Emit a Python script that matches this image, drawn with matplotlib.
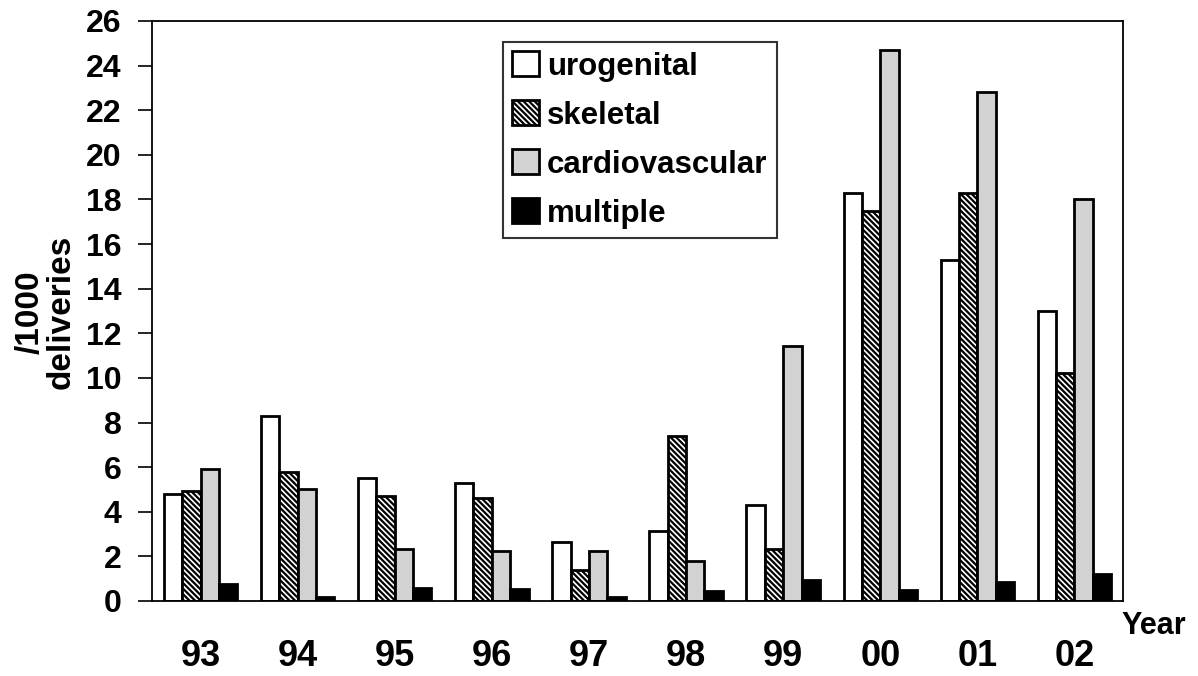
import numpy as np
import matplotlib
matplotlib.use('Agg')
import matplotlib.pyplot as plt

years = ['93', '94', '95', '96', '97', '98', '99', '00', '01', '02']
urogenital = [4.8, 8.3, 5.5, 5.3, 2.65, 3.15, 4.3, 18.3, 15.3, 13.0]
skeletal = [4.95, 5.8, 4.7, 4.6, 1.4, 7.4, 2.35, 17.5, 18.3, 10.2]
cardiovascular = [5.9, 5.0, 2.35, 2.25, 2.25, 1.8, 11.45, 24.7, 22.8, 18.0]
multiple = [0.75, 0.2, 0.6, 0.55, 0.2, 0.45, 0.95, 0.5, 0.85, 1.2]
series_names = ['urogenital', 'skeletal', 'cardiovascular', 'multiple']

plt.rcParams['font.family'] = ['Liberation Sans', 'DejaVu Sans']
plt.rcParams['font.weight'] = 'bold'
plt.rcParams['hatch.linewidth'] = 1.6

fig = plt.figure(figsize=(11.98, 6.76), dpi=100)
ax = fig.add_axes([152 / 1198, 1 - 601 / 676, (1123 - 152) / 1198, (601 - 21) / 676])

x = np.arange(len(years))
w = 0.189
styles = [dict(facecolor='white', hatch=None),
          dict(facecolor='white', hatch='\\\\\\\\\\\\'),
          dict(facecolor='#d2d2d2', hatch=None),
          dict(facecolor='black', hatch=None)]
for i, (vals, name, st) in enumerate(zip([urogenital, skeletal, cardiovascular, multiple], series_names, styles)):
    ax.bar(x + (i - 1.5) * w, vals, width=w, edgecolor='black', linewidth=2.0, label=name, **st)

ax.set_xlim(-0.5, len(years) - 0.5)
ax.set_ylim(0, 26)
ax.set_yticks(range(0, 27, 2))
ax.set_xticks(x)
ax.set_xticklabels(years, fontsize=26, fontweight='bold')
ax.tick_params(axis='x', length=0, pad=27)
ax.tick_params(axis='y', length=10, width=1.2, labelsize=23, direction='out', pad=12)
for lab in ax.get_yticklabels():
    lab.set_fontweight('bold')
for sp in ax.spines.values():
    sp.set_linewidth(1.3)

fig.text(46 / 1198, 1 - 312 / 676, '/1000\ndeliveries', rotation=90, ha='center', va='center',
         fontsize=24, fontweight='bold', linespacing=1.0)
fig.text(1154 / 1198, 1 - 626 / 676, 'Year', ha='center', va='center', fontsize=22, fontweight='bold')

leg = ax.legend(loc='upper left', bbox_to_anchor=((503 - 152) / 971, 1 - (42 - 21) / 580),
                frameon=True, fancybox=False, edgecolor='black', handlelength=0.85,
                handleheight=0.85, handletextpad=0.25, labelspacing=0.6, borderpad=0.3,
                borderaxespad=0, prop={'weight': 'bold', 'size': 22.5})
leg.get_frame().set_linewidth(1.5)

fig.savefig('out.png', dpi=100, facecolor='white')
